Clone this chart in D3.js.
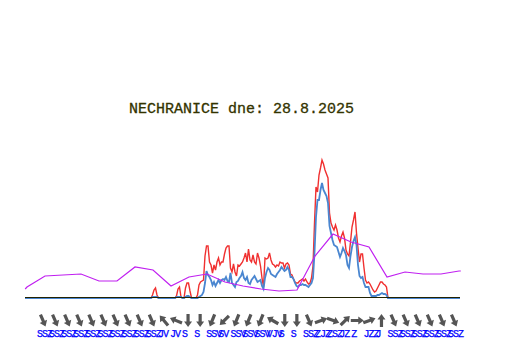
<!DOCTYPE html>
<html lang="en">
    <head>
        <meta charset="utf-8">
        <title>NECHRANICE</title>
        <script src="https://d3js.org/d3.v7.min.js"></script>
        <style type="text/css">
            body { margin: 0; background: #fff; }
            svg { display: block; }
        </style>
    </head>
    <body>
        <svg id="chart" width="532" height="360"></svg>
        <script>
            var title = 'NECHRANICE dne: 28.8.2025';

            // 5 minute samples, one row per hour
            var redValues = [
                0,0,0,0,0,0,0,0,0,0,0,0,
                0,0,0,0,0,0,0,0,0,0,0,0,
                0,0,0,0,0,0,0,0,0,0,0,0,
                0,0,0,0,0,0,0,0,0,0,0,0,
                0,0,0,0,0,0,0,0,0,0,0,0,
                0,0,0,0,0,0,0,0,0,0,0,0,
                0,0,0,0,0,0,0,0,0,0,0,0,
                0,3,8,10,3,0,0,0,0,0,0,0,
                0,0,0,0,0,2,9,11,1,0,0,10,
                15,15,7,0,0,0,0,3,13,16,17,18,
                42,52,52,36,33,25,33,28,36,40,33,36,
                36,44,50,52,52,30,26,34,26,22,33,32,
                34,36,40,45,36,49,38,36,43,36,34,45,
                40,32,20,11,40,39,40,45,38,34,33,31,
                33,32,36,35,35,30,34,35,33,24,23,19,
                16,15,15,17,18,19,17,19,16,14,15,20,
                32,75,111,106,123,130,138,134,128,124,120,85,
                75,71,68,73,68,60,56,62,66,60,48,44,
                42,56,71,78,86,65,50,36,44,44,30,18,
                15,16,14,11,8,6,7,10,13,16,16,14,
                13,11,0,0,0,0,0,0,0,0,0,0,
                0,0,0,0,0,0,0,0,0,0,0,0,
                0,0,0,0,0,0,0,0,0,0,0,0,
                0,0,0,0,0,0,0,0,0,0,0,0,
                0,0,0
            ];
            var blueValues = [
                0,0,0,0,0,0,0,0,0,0,0,0,
                0,0,0,0,0,0,0,0,0,0,0,0,
                0,0,0,0,0,0,0,0,0,0,0,0,
                0,0,0,0,0,0,0,0,0,0,0,0,
                0,0,0,0,0,0,0,0,0,0,0,0,
                0,0,0,0,0,0,0,0,0,0,0,0,
                0,0,0,0,0,0,0,0,0,0,0,0,
                0,1,1,1,1,0,0,0,0,0,0,0,
                0,0,0,0,0,1,1,1,1,0,0,1,
                2,2,1,0,0,0,0,0,1,2,3,6,
                15,27,23,21,18,13,16,12,15,18,15,18,
                19,18,21,17,16,25,15,13,11,16,17,20,
                22,26,20,18,21,15,14,18,20,22,19,16,
                17,18,12,9,20,26,30,28,24,23,22,21,
                24,26,28,31,29,27,28,31,28,21,21,19,
                15,12,11,13,13,14,13,13,12,11,13,15,
                20,45,81,98,98,108,115,108,105,102,95,72,
                65,58,53,52,51,46,41,45,50,47,43,33,
                30,42,51,57,61,53,33,22,20,21,15,11,
                11,11,5,2,2,2,2,3,3,4,5,4,
                4,3,0,0,0,0,0,0,0,0,0,0,
                0,0,0,0,0,0,0,0,0,0,0,0,
                0,0,0,0,0,0,0,0,0,0,0,0,
                0,0,0,0,0,0,0,0,0,0,0,0,
                0,0,0
            ];

            // hourly series
            var magentaHours = [-0.1,0,1,2,3,4,5,6,7,8,9,10,11,12,13,14,15,16,17,18,19,20,21,22,23,24,24.1];
            var magentaValues = [9,11,22,23,24,17,17,31,28,12,21,24,16,12,9,7,8,42,64,56,51,21,26,24,24,27,27];

            // wind: label and direction it blows from
            var windLabels = [
                'SSZ','SSZ','SSZ','SSZ','SSZ','SSZ','SSZ','SSZ','SSZ','SSZ',
                'JV','JV','S','S','SSV','SV','SSV','SSV','SSV','VJV',
                'S','S','SSZ','ZJZ','ZSZ','JZ','Z','JZZ','J',
                'SSZ','SSZ','SSZ','SSZ','SSZ','SSZ'
            ];
            var windDegrees = [
                337,337,337,337,337,337,337,337,337,337,
                140,112,0,0,22,45,22,22,22,120,
                0,0,337,250,290,225,270,250,180,
                337,337,337,337,337,337
            ];

            var svg = d3.select('#chart');

            var xScale = d3.scaleLinear().domain([0, 290]).range([25, 460]);
            var hourScale = d3.scaleLinear().domain([0, 24]).range([27, 459]);
            var yScale = d3.scaleLinear().domain([0, 140]).range([298, 158]);
            var windScale = d3.scaleLinear().domain([0, 34]).range([43, 454]);

            var sampleLine = d3.line()
                .x(function(d, i) { return xScale(i); })
                .y(function(d) { return yScale(d); });

            var hourLine = d3.line()
                .x(function(d, i) { return hourScale(magentaHours[i]); })
                .y(function(d) { return yScale(d); });

            svg.append('text')
                .attr('x', 129)
                .attr('y', 112.5)
                .attr('font-family', 'Liberation Mono')
                .attr('font-size', 15)
                .attr('fill', '#333300')
                .attr('stroke', '#333300')
                .attr('stroke-width', 0.3)
                .attr('textLength', 225)
                .text(title);

            svg.append('path')
                .attr('d', sampleLine(redValues))
                .attr('fill', 'none')
                .attr('stroke', '#f03030')
                .attr('stroke-width', 1.4);

            svg.append('path')
                .attr('d', sampleLine(blueValues))
                .attr('fill', 'none')
                .attr('stroke', '#4a86d0')
                .attr('stroke-width', 1.8);

            svg.append('path')
                .attr('d', hourLine(magentaValues))
                .attr('fill', 'none')
                .attr('stroke', '#c020f0')
                .attr('stroke-width', 1.2);

            // zero line
            svg.append('line')
                .attr('x1', xScale(0))
                .attr('x2', xScale(290))
                .attr('y1', yScale(0) - 0.5)
                .attr('y2', yScale(0) - 0.5)
                .attr('stroke', '#222200')
                .attr('stroke-width', 1);

            //Arrow drawn pointing down, then turned
            var arrowPath = 'M-1.6,-6.5L1.6,-6.5L1.6,1L4,1L0,6.5L-4,1L-1.6,1Z';

            svg.selectAll('path.arrow')
                .data(windDegrees)
                .enter()
                .append('path')
                .attr('class', 'arrow')
                .attr('d', arrowPath)
                .attr('fill', '#555555')
                .attr('transform', function(d, i) {
                    return 'translate(' + windScale(i) + ',320.5) rotate(' + d + ')';
                });

            svg.selectAll('text.wind')
                .data(windLabels)
                .enter()
                .append('text')
                .attr('class', 'wind')
                .attr('x', function(d, i) { return windScale(i) - 6; })
                .attr('y', 337)
                .attr('font-family', 'Liberation Mono')
                .attr('font-size', 10)
                .attr('letter-spacing', -1)
                .attr('fill', '#0000ff')
                .attr('stroke', '#0000ff')
                .attr('stroke-width', 0.25)
                .text(function(d) { return d; });
        </script>
    </body>
</html>
